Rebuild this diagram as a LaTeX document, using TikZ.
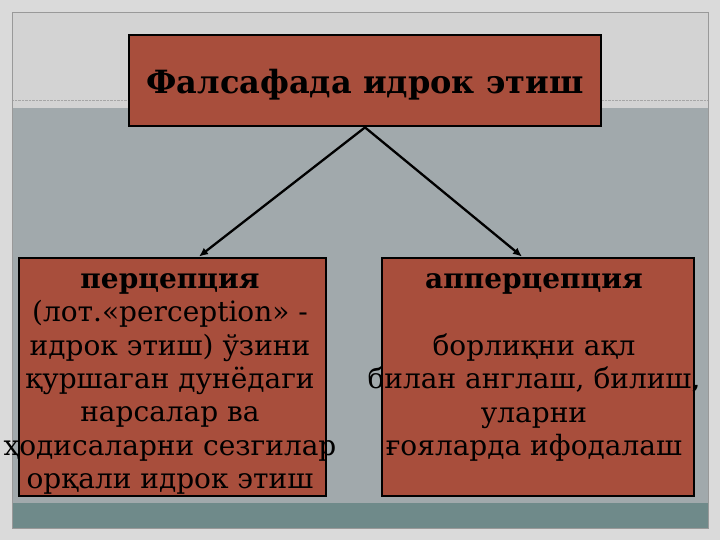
\documentclass[tikz,border=0pt]{standalone}
\usepackage{fontspec}
\setmainfont{DejaVu Serif}
\usetikzlibrary{arrows.meta}
\definecolor{brick}{RGB}{168,78,60}
\definecolor{slidegray}{RGB}{161,169,172}
\definecolor{topgray}{RGB}{211,211,211}
\definecolor{outergray}{RGB}{218,218,218}
\definecolor{footteal}{RGB}{111,138,138}

\begin{document}
\begin{tikzpicture}[
  x=1bp,y=-1bp,
  >={Latex[length=9bp,width=8bp]},
  box/.style={draw=black,line width=2.8bp,fill=brick,inner sep=0pt},
  link/.style={->,line width=2.3bp},
  bodytext/.style={align=center,inner sep=0pt,font=\fontsize{28bp}{33.4bp}\selectfont}
]
  \useasboundingbox (0,0) rectangle (720,540);
  \fill[outergray] (0,0) rectangle (720,540);
  \fill[topgray] (12,12) rectangle (708,108);
  \fill[slidegray] (12,108) rectangle (708,503);
  \fill[footteal] (12,503) rectangle (708,528);
  \draw[gray!70,densely dotted] (12,100) -- (708,100);
  \draw[gray!80,line width=.6bp] (12,12) rectangle (708,528);

  \node[box,minimum width=472bp,minimum height=91bp] (title) at (365,80.5) {};
  \node[box,minimum width=307bp,minimum height=238bp] (perc) at (172.5,377) {};
  \node[box,minimum width=312bp,minimum height=238bp] (apperc) at (538,377) {};

  \draw[link] (title.south) -- ([xshift=26.5bp]perc.north);
  \draw[link] (title.south) -- ([xshift=-16bp]apperc.north);

  \node[inner sep=0pt,font=\fontsize{32bp}{36bp}\selectfont\bfseries] (titleText) at (365,85) {Фалсафада идрок этиш};
  \node[bodytext] (percText) at (170,384) {\textbf{перцепция}\\(лот.«perception» -\\идрок этиш) ўзини\\қуршаган дунёдаги\\нарсалар ва\\ҳодисаларни сезгилар\\орқали идрок этиш};
  \node[bodytext] (appercText) at (534,367.5) {\textbf{апперцепция}\\\mbox{}\\борлиқни ақл\\билан англаш, билиш,\\уларни\\ғояларда ифодалаш};
\end{tikzpicture}
\end{document}
